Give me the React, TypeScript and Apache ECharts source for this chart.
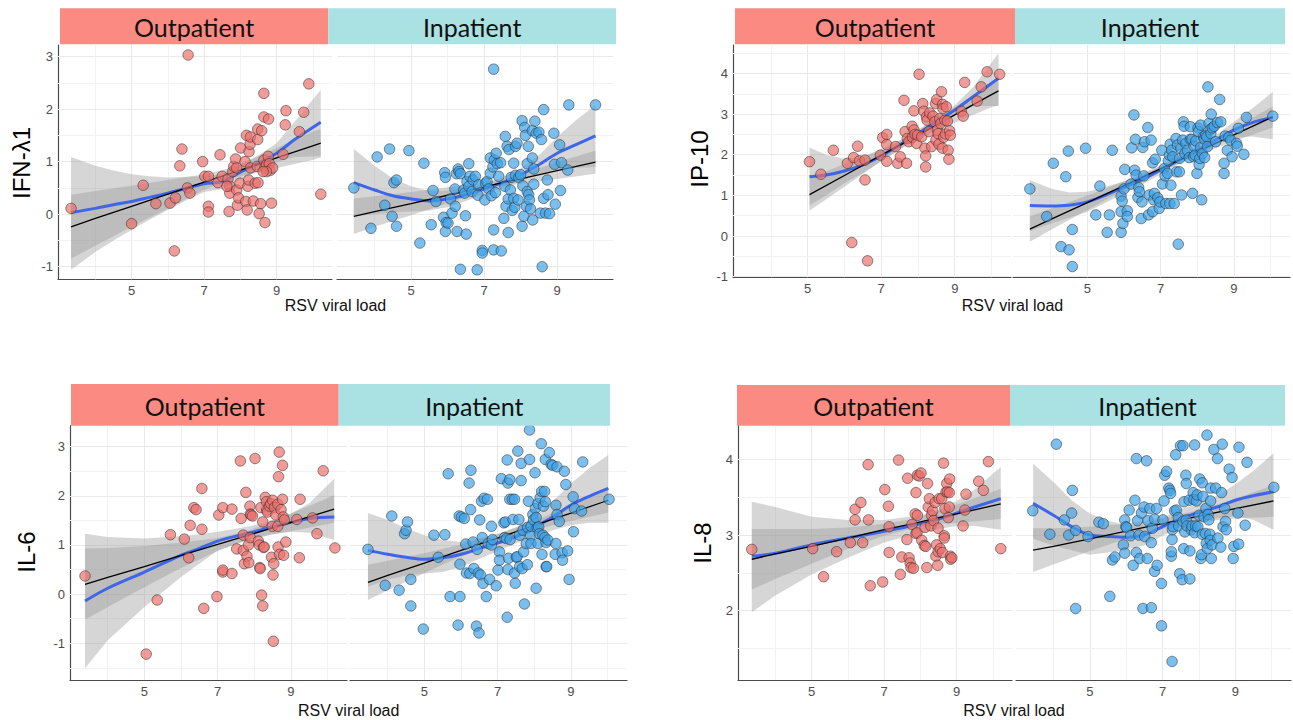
import React, { useEffect, useRef } from "react";
import * as echarts from "echarts";

// ---------------- data ----------------
const groups = ["Outpatient", "Inpatient"];
const markers = ["IFN-λ1", "IP-10", "IL-6", "IL-8"];
const xTitle = "RSV viral load";
const xTickLabels = [5, 7, 9];
const xMinorBreaks = [4, 6, 8, 10];

// IFN-λ1
const ifnOutPts = [[3.33,0.11],[5.0,-0.18],[5.32,0.55],[5.67,0.20],[6.06,0.21],[6.21,0.31],[6.18,-0.70],[6.33,0.92],[6.39,1.24],[6.54,0.50],[6.61,0.40],[6.56,3.03],[6.96,1.00],[7.02,0.72],[7.12,0.72],[7.12,0.15],[7.12,0.04],[7.44,1.13],[7.38,0.60],[7.50,0.72],[7.66,0.67],[7.69,0.05],[7.71,0.53],[7.71,0.40],[7.79,0.81],[7.82,0.91],[7.87,1.05],[7.90,0.88],[7.90,0.46],[7.92,0.17],[7.95,0.31],[7.99,0.59],[8.01,1.26],[8.13,1.00],[8.15,0.24],[8.17,1.50],[8.19,0.08],[8.21,0.53],[8.23,0.65],[8.24,1.19],[8.27,1.33],[8.28,1.47],[8.28,0.88],[8.36,0.25],[8.41,0.59],[8.47,0.91],[8.49,0.60],[8.48,1.42],[8.48,1.62],[8.56,0.20],[8.52,0.01],[8.59,1.59],[8.65,2.30],[8.65,1.85],[8.68,-0.16],[8.65,1.03],[8.68,0.88],[8.72,0.94],[8.78,1.81],[8.77,1.10],[8.80,0.96],[8.82,0.83],[8.86,0.21],[8.89,0.88],[8.72,0.81],[9.18,1.14],[9.24,1.70],[9.26,1.97],[9.63,1.57],[9.75,1.94],[9.89,2.48],[10.22,0.38],[8.63,0.81],[7.63,0.53]];
const ifnInPts = [[3.43,0.50],[3.90,-0.27],[4.07,1.09],[4.28,0.17],[4.41,1.24],[4.48,-0.04],[4.53,0.60],[4.60,0.65],[4.60,-0.23],[4.94,1.21],[5.24,-0.55],[5.35,0.97],[5.55,-0.20],[5.60,0.45],[5.68,0.24],[5.89,-0.06],[5.96,-0.16],[5.92,0.79],[5.94,0.70],[5.94,-0.33],[6.01,-0.17],[6.08,0.29],[6.12,0.02],[6.20,0.48],[6.21,0.15],[6.24,0.77],[6.29,0.86],[6.31,0.81],[6.35,0.77],[6.26,-0.33],[6.35,-1.05],[6.49,-0.03],[6.51,-0.38],[6.44,0.46],[6.47,0.40],[6.53,0.62],[6.58,0.96],[6.58,0.53],[6.61,0.72],[6.67,0.43],[6.70,0.65],[6.76,0.72],[6.81,-1.06],[6.83,0.36],[6.85,0.56],[6.95,-0.69],[6.95,-0.74],[7.02,0.27],[7.04,0.59],[7.08,0.62],[7.13,0.48],[7.17,1.07],[7.17,0.78],[7.20,0.35],[7.24,0.90],[7.26,-0.68],[7.26,-0.30],[7.28,1.03],[7.31,0.41],[7.33,1.16],[7.36,0.96],[7.40,0.72],[7.45,0.98],[7.47,-0.70],[7.54,-0.08],[7.57,0.53],[7.58,1.48],[7.60,0.15],[7.63,1.29],[7.66,-0.35],[7.66,0.29],[7.68,1.23],[7.72,0.46],[7.74,0.70],[7.77,0.07],[7.81,0.97],[7.81,0.30],[7.84,0.13],[7.86,1.29],[7.86,0.74],[7.90,1.35],[7.93,0.27],[7.95,0.70],[8.00,0.75],[8.04,1.78],[8.04,-0.23],[8.06,0.54],[8.09,-0.04],[8.11,1.65],[8.13,1.50],[8.16,0.15],[8.18,0.96],[8.18,0.43],[8.21,1.29],[8.22,0.37],[8.24,0.27],[8.27,0.10],[8.32,1.07],[8.32,1.59],[8.33,-0.11],[8.36,0.86],[8.36,0.57],[8.39,1.77],[8.43,1.54],[8.50,1.56],[8.54,0.02],[8.57,1.42],[8.59,-1.00],[8.63,1.99],[8.63,0.30],[8.68,0.02],[8.73,0.65],[8.75,0.37],[8.79,0.01],[8.91,1.54],[8.93,0.95],[8.95,0.19],[9.07,1.32],[9.09,0.45],[9.12,0.98],[9.29,0.84],[9.32,2.08],[10.05,2.08],[7.26,2.76]];
// rows: [x, fit, lower, upper]
const ifnOutLoess = [[3.33,0.03,-1.06,1.09],[4,0.11,-0.72,0.92],[4.5,0.18,-0.50,0.83],[5,0.24,-0.30,0.76],[5.5,0.32,-0.10,0.72],[6,0.40,0.08,0.70],[6.5,0.49,0.26,0.71],[7,0.58,0.42,0.72],[7.5,0.62,0.48,0.76],[8,0.80,0.66,0.95],[8.5,0.97,0.83,1.12],[9,1.16,0.99,1.35],[9.5,1.42,1.09,1.76],[10.22,1.75,1.10,2.37]];
const ifnOutLm = [[3.33,-0.24,-0.85,0.37],[4,-0.08,-0.60,0.44],[5,0.15,-0.24,0.54],[6,0.38,0.11,0.65],[7,0.61,0.46,0.76],[7.8,0.79,0.69,0.89],[8.5,0.95,0.80,1.10],[9,1.07,0.88,1.26],[10,1.30,1.03,1.57],[10.22,1.35,1.08,1.62]];
const ifnInLoess = [[3.43,0.60,-0.04,1.24],[4,0.46,0.00,0.92],[4.5,0.35,0.03,0.68],[5,0.29,0.05,0.53],[5.5,0.25,0.07,0.44],[6,0.29,0.13,0.45],[6.5,0.37,0.25,0.49],[7,0.48,0.38,0.58],[7.5,0.60,0.50,0.70],[8,0.75,0.63,0.87],[8.5,0.94,0.76,1.12],[9,1.16,0.85,1.47],[9.5,1.32,0.88,1.78],[10.05,1.49,0.90,2.08]];
const ifnInLm = [[3.43,-0.04,-0.38,0.30],[4,0.05,-0.24,0.34],[5,0.20,-0.02,0.42],[6,0.36,0.21,0.51],[7,0.52,0.44,0.60],[7.5,0.60,0.53,0.67],[8,0.67,0.58,0.76],[9,0.83,0.67,0.99],[10.05,0.99,0.77,1.21]];

// IP-10
const ip10OutPts = [[5.05,1.83],[5.36,1.52],[5.70,2.11],[6.08,1.79],[6.25,1.93],[6.36,2.21],[6.41,1.85],[6.56,1.87],[6.56,1.38],[6.20,-0.16],[6.63,-0.61],[6.98,1.99],[7.04,2.42],[7.15,2.50],[7.15,2.25],[7.15,1.84],[7.39,2.20],[7.45,1.79],[7.52,1.95],[7.62,3.34],[7.65,2.57],[7.69,1.79],[7.71,2.40],[7.75,2.32],[7.84,2.70],[7.85,2.43],[7.89,2.61],[7.89,3.08],[7.92,2.50],[7.96,2.28],[7.99,2.48],[8.03,3.98],[8.10,2.44],[8.13,3.26],[8.16,3.07],[8.19,2.16],[8.21,1.97],[8.21,1.70],[8.23,2.93],[8.25,2.85],[8.30,2.57],[8.32,3.03],[8.37,2.20],[8.41,2.95],[8.46,2.81],[8.48,3.26],[8.49,2.36],[8.51,3.36],[8.53,2.61],[8.55,2.52],[8.57,2.26],[8.59,2.89],[8.62,2.77],[8.64,3.55],[8.67,3.24],[8.67,2.16],[8.68,3.14],[8.70,2.43],[8.73,2.85],[8.75,2.51],[8.77,3.18],[8.80,2.83],[8.82,2.11],[8.84,1.89],[8.86,2.59],[8.88,2.48],[9.18,3.07],[9.23,2.95],[9.27,3.78],[9.61,3.32],[9.72,3.67],[9.88,4.04],[10.22,3.98]];
const ip10InPts = [[3.43,1.16],[3.89,0.48],[4.07,1.79],[4.28,-0.26],[4.41,1.46],[4.48,2.09],[4.50,-0.34],[4.59,0.16],[4.59,-0.75],[4.95,2.16],[5.23,0.52],[5.34,1.23],[5.54,0.09],[5.60,0.52],[5.68,2.11],[5.92,0.98],[5.95,0.86],[5.92,0.60],[5.92,0.09],[5.97,0.31],[6.00,1.16],[6.02,1.64],[6.09,0.62],[6.09,0.48],[6.19,1.28],[6.21,2.17],[6.27,2.98],[6.29,1.62],[6.31,2.38],[6.33,1.50],[6.38,0.95],[6.40,1.19],[6.42,1.09],[6.47,0.43],[6.49,0.84],[6.51,2.18],[6.54,1.48],[6.56,2.32],[6.65,2.67],[6.67,0.52],[6.69,1.01],[6.74,2.36],[6.78,1.80],[6.81,0.89],[6.78,0.60],[6.83,1.05],[6.85,1.89],[6.92,0.94],[6.96,0.68],[6.98,0.84],[7.03,2.11],[7.05,1.28],[7.10,1.66],[7.12,1.48],[7.14,0.80],[7.19,1.54],[7.21,1.85],[7.24,1.99],[7.25,0.80],[7.26,2.26],[7.28,1.25],[7.30,2.11],[7.33,1.95],[7.37,0.80],[7.42,2.40],[7.43,1.58],[7.46,2.24],[7.48,-0.20],[7.51,1.58],[7.52,1.91],[7.55,2.16],[7.57,1.01],[7.60,2.36],[7.62,2.81],[7.64,2.70],[7.66,2.03],[7.69,2.28],[7.73,2.11],[7.78,1.93],[7.81,2.38],[7.81,2.69],[7.85,2.38],[7.87,1.05],[7.90,1.95],[7.91,2.21],[7.94,1.99],[7.96,2.34],[7.99,1.54],[8.02,2.66],[8.03,2.57],[8.05,1.76],[8.07,1.91],[8.09,2.73],[8.09,2.18],[8.12,0.89],[8.14,2.03],[8.17,2.44],[8.19,2.39],[8.20,1.93],[8.23,2.48],[8.26,2.44],[8.28,2.20],[8.29,3.67],[8.32,2.77],[8.35,2.62],[8.37,2.52],[8.38,3.00],[8.41,2.66],[8.46,2.70],[8.50,2.32],[8.55,2.79],[8.61,3.36],[8.64,2.81],[8.73,1.79],[8.73,1.54],[8.76,2.46],[8.82,2.11],[8.86,2.43],[8.91,2.36],[8.95,1.95],[9.07,2.28],[9.09,2.21],[9.12,2.65],[9.27,2.01],[9.34,2.92],[10.06,2.95]];
const ip10OutLoess = [[5.05,1.46,0.75,2.18],[5.5,1.50,1.00,2.00],[6,1.60,1.30,1.90],[6.5,1.75,1.55,1.95],[7,1.97,1.84,2.10],[7.5,2.24,2.13,2.35],[8,2.52,2.42,2.62],[8.5,2.81,2.72,2.90],[9,3.10,2.98,3.22],[9.5,3.43,3.20,3.66],[10.19,3.88,3.20,4.50]];
const ip10OutLm = [[5.05,1.02,0.62,1.42],[6,1.49,1.21,1.77],[7,1.99,1.84,2.14],[7.7,2.33,2.24,2.42],[8.5,2.73,2.60,2.86],[9,2.98,2.79,3.17],[10,3.48,3.17,3.79],[10.19,3.57,3.21,3.93]];
const ip10InLoess = [[3.43,0.75,0.12,1.38],[4,0.74,0.30,1.17],[4.5,0.76,0.45,1.07],[5,0.84,0.60,1.09],[5.5,1.01,0.82,1.21],[6,1.20,1.05,1.34],[6.5,1.39,1.27,1.52],[7,1.62,1.52,1.72],[7.5,1.87,1.77,1.97],[8,2.11,2.00,2.21],[8.5,2.36,2.25,2.48],[9,2.61,2.42,2.81],[9.5,2.79,2.45,3.14],[10.06,2.92,2.38,3.55]];
const ip10InLm = [[3.43,0.17,-0.14,0.48],[4,0.41,0.15,0.67],[5,0.82,0.64,1.00],[6,1.24,1.13,1.35],[7,1.66,1.59,1.73],[8,2.07,1.99,2.15],[9,2.49,2.33,2.65],[10.06,2.93,2.67,3.19]];

// IL-6
const il6OutPts = [[3.38,0.37],[5.05,-1.22],[5.35,-0.12],[5.71,1.21],[6.09,1.12],[6.21,0.74],[6.25,1.40],[6.35,1.76],[6.41,1.72],[6.57,1.32],[6.57,2.15],[6.62,-0.29],[6.98,-0.05],[7.03,1.61],[7.14,0.45],[7.14,0.49],[7.14,1.76],[7.39,0.42],[7.39,1.73],[7.52,0.92],[7.62,2.71],[7.64,1.54],[7.70,1.20],[7.70,0.89],[7.73,0.62],[7.77,2.07],[7.80,0.77],[7.84,1.00],[7.85,0.64],[7.88,1.79],[7.89,1.63],[7.89,1.15],[7.91,1.61],[7.95,1.59],[8.02,2.76],[8.11,1.08],[8.14,1.00],[8.15,0.54],[8.16,0.52],[8.18,1.76],[8.20,-0.02],[8.23,1.47],[8.23,-0.24],[8.25,0.95],[8.27,0.96],[8.30,1.97],[8.33,1.88],[8.34,1.71],[8.36,1.67],[8.41,1.79],[8.45,1.84],[8.47,0.75],[8.49,1.38],[8.50,1.91],[8.51,0.39],[8.53,0.62],[8.52,-0.96],[8.55,1.76],[8.59,1.61],[8.64,1.83],[8.64,1.38],[8.65,0.96],[8.66,2.39],[8.68,2.89],[8.69,0.81],[8.73,1.72],[8.77,1.93],[8.77,2.62],[8.79,1.57],[8.80,0.79],[8.82,1.51],[8.86,1.06],[9.16,1.52],[9.23,0.74],[9.25,1.93],[9.59,1.55],[9.71,1.23],[9.88,2.51],[10.20,0.94]];
const il6InPts = [[3.46,0.91],[3.93,0.18],[4.11,1.59],[4.31,0.08],[4.46,1.23],[4.50,1.30],[4.54,1.47],[4.63,0.30],[4.63,-0.24],[4.97,-0.71],[5.26,1.20],[5.38,0.75],[5.56,1.21],[5.65,2.45],[5.70,-0.05],[5.92,-0.63],[5.95,1.59],[5.97,-0.05],[5.97,0.61],[6.01,1.57],[6.09,1.54],[6.13,1.02],[6.15,0.43],[6.22,2.26],[6.24,0.42],[6.27,2.52],[6.26,1.72],[6.33,1.06],[6.35,0.52],[6.42,-0.65],[6.44,0.91],[6.47,0.43],[6.49,-0.79],[6.51,1.51],[6.53,0.39],[6.56,1.89],[6.58,1.15],[6.60,0.22],[6.63,1.95],[6.69,-0.05],[6.72,1.93],[6.74,1.03],[6.78,0.30],[6.83,1.38],[6.83,1.00],[6.86,1.11],[6.96,0.17],[7.01,0.49],[7.05,0.86],[7.05,0.69],[7.10,2.35],[7.17,1.45],[7.19,1.15],[7.21,1.47],[7.24,1.13],[7.26,-0.47],[7.26,2.73],[7.28,2.26],[7.28,0.50],[7.30,0.73],[7.33,2.33],[7.33,1.93],[7.34,1.11],[7.40,1.93],[7.42,1.52],[7.46,1.93],[7.46,0.43],[7.48,0.22],[7.51,0.75],[7.53,0.76],[7.55,2.91],[7.58,1.52],[7.60,0.56],[7.60,1.20],[7.64,2.66],[7.64,2.31],[7.67,0.52],[7.69,1.30],[7.71,0.86],[7.73,-0.20],[7.78,1.03],[7.81,0.60],[7.82,1.36],[7.84,1.89],[7.87,2.74],[7.87,3.34],[7.90,1.20],[7.91,1.03],[7.91,1.38],[7.96,1.62],[7.98,1.51],[8.02,2.47],[8.03,1.74],[8.05,1.56],[8.05,0.12],[8.08,1.35],[8.10,1.03],[8.10,1.84],[8.12,1.37],[8.14,1.23],[8.16,1.96],[8.19,3.06],[8.20,2.09],[8.21,0.81],[8.23,1.20],[8.25,1.79],[8.28,2.09],[8.29,1.15],[8.30,2.74],[8.32,1.05],[8.32,0.56],[8.30,1.88],[8.34,0.56],[8.37,1.10],[8.41,2.88],[8.46,2.64],[8.50,2.62],[8.57,0.81],[8.59,1.03],[8.59,1.81],[8.62,2.59],[8.62,1.62],[8.68,1.48],[8.76,0.84],[8.77,0.69],[8.82,2.50],[8.86,2.23],[8.91,0.88],[8.95,0.30],[9.06,1.98],[9.07,1.27],[9.10,1.74],[9.29,1.69],[9.32,2.69],[10.04,1.93]];
const il6OutLoess = [[3.38,-0.14,-1.51,1.23],[4,0.12,-0.94,1.16],[5,0.45,-0.26,1.13],[6,0.79,0.35,1.18],[6.5,0.93,0.62,1.22],[7,1.08,0.89,1.27],[7.5,1.18,1.02,1.33],[8,1.27,1.13,1.40],[8.5,1.37,1.22,1.50],[9,1.46,1.27,1.64],[9.5,1.54,1.25,1.85],[10.18,1.57,1.10,2.35]];
const il6OutLm = [[3.38,0.20,-0.52,0.93],[4,0.34,-0.26,0.94],[5,0.56,0.14,0.98],[6,0.79,0.53,1.05],[7,1.01,0.88,1.14],[7.8,1.19,1.10,1.28],[8.5,1.35,1.22,1.48],[9,1.46,1.28,1.64],[10.18,1.73,1.45,2.01]];
const il6InLoess = [[3.46,0.89,0.15,1.65],[4,0.81,0.30,1.51],[4.5,0.75,0.38,1.34],[5,0.71,0.42,1.20],[5.5,0.74,0.45,1.10],[6,0.81,0.55,1.06],[6.5,0.93,0.72,1.14],[7,1.04,0.88,1.23],[7.5,1.17,1.03,1.36],[8,1.36,1.18,1.57],[8.5,1.57,1.30,1.88],[9,1.81,1.40,2.25],[9.5,1.99,1.45,2.56],[10.02,2.15,1.45,2.83]];
const il6InLm = [[3.46,0.24,-0.12,0.60],[4,0.38,0.08,0.68],[5,0.63,0.43,0.83],[6,0.89,0.77,1.01],[7,1.14,1.06,1.22],[8,1.40,1.31,1.49],[9,1.65,1.49,1.81],[10.02,1.91,1.66,2.16]];

// IL-8
const il8OutPts = [[3.35,2.81],[5.03,2.82],[5.33,2.45],[5.69,2.78],[6.07,2.90],[6.20,3.34],[6.20,3.20],[6.36,3.43],[6.41,2.90],[6.56,3.93],[6.57,3.20],[6.62,2.33],[6.96,2.38],[7.02,3.60],[7.12,3.38],[7.14,2.77],[7.14,3.11],[7.40,3.99],[7.45,2.48],[7.49,2.71],[7.63,2.94],[7.65,3.75],[7.69,2.70],[7.72,2.63],[7.74,2.57],[7.77,3.14],[7.81,2.56],[7.86,3.28],[7.88,3.56],[7.88,3.02],[7.91,3.03],[7.92,3.26],[7.92,3.79],[7.97,3.78],[8.02,3.82],[8.04,2.93],[8.11,2.86],[8.13,3.10],[8.15,2.85],[8.18,2.57],[8.20,3.68],[8.22,3.37],[8.25,3.48],[8.29,3.12],[8.31,3.26],[8.34,3.32],[8.37,3.19],[8.41,3.43],[8.43,2.72],[8.45,2.87],[8.48,2.60],[8.49,3.09],[8.49,2.78],[8.52,3.48],[8.55,2.82],[8.59,3.48],[8.61,2.77],[8.64,3.95],[8.66,2.99],[8.66,2.96],[8.68,3.35],[8.71,3.57],[8.73,3.68],[8.75,3.57],[8.77,3.23],[8.80,3.56],[8.80,3.37],[8.81,3.74],[8.83,2.72],[8.84,2.68],[8.87,2.70],[9.26,3.54],[9.23,3.33],[9.18,3.12],[9.61,3.71],[9.74,3.59],[9.88,3.97],[10.22,2.82]];
const il8InPts = [[3.43,3.32],[3.90,3.01],[4.08,4.20],[4.30,3.20],[4.42,3.00],[4.50,3.29],[4.52,3.59],[4.61,2.03],[4.61,3.06],[4.95,2.98],[5.25,3.17],[5.37,3.15],[5.55,2.19],[5.62,2.67],[5.69,2.71],[5.92,2.87],[5.96,3.20],[5.96,2.76],[5.99,3.11],[6.01,3.10],[6.08,3.33],[6.12,2.99],[6.19,2.60],[6.24,3.46],[6.28,4.01],[6.31,3.19],[6.28,2.77],[6.35,3.00],[6.37,2.69],[6.42,3.29],[6.46,2.03],[6.49,3.37],[6.51,2.98],[6.56,3.98],[6.58,2.69],[6.60,3.19],[6.65,3.35],[6.69,2.90],[6.69,2.04],[6.72,3.09],[6.78,3.21],[6.78,2.52],[6.83,3.35],[6.85,2.60],[6.97,2.36],[6.97,1.80],[7.01,3.20],[7.04,3.45],[7.06,3.79],[7.11,3.84],[7.17,3.62],[7.20,3.59],[7.22,3.55],[7.24,2.72],[7.24,2.78],[7.26,2.94],[7.26,1.33],[7.27,3.07],[7.29,3.11],[7.33,3.32],[7.36,4.06],[7.38,3.33],[7.43,3.23],[7.44,3.12],[7.47,2.49],[7.49,4.18],[7.54,2.41],[7.56,4.18],[7.56,3.18],[7.58,2.82],[7.59,3.44],[7.61,3.04],[7.64,3.79],[7.65,3.68],[7.65,3.20],[7.67,3.12],[7.73,3.46],[7.75,2.79],[7.75,2.42],[7.79,3.07],[7.81,3.12],[7.84,3.56],[7.86,3.47],[7.88,4.19],[7.88,3.03],[7.91,3.12],[7.93,3.45],[7.95,3.53],[7.97,3.11],[8.00,3.26],[8.02,3.74],[8.05,2.69],[8.07,2.74],[8.09,3.69],[8.09,3.01],[8.11,3.51],[8.14,3.24],[8.18,3.02],[8.19,3.35],[8.20,2.89],[8.22,4.32],[8.23,2.82],[8.25,3.27],[8.27,3.20],[8.30,3.01],[8.31,2.93],[8.32,3.45],[8.32,3.62],[8.34,2.69],[8.36,2.87],[8.41,4.13],[8.46,3.62],[8.51,4.01],[8.52,2.96],[8.60,2.84],[8.62,3.56],[8.64,4.20],[8.66,3.11],[8.71,3.35],[8.73,3.18],[8.75,3.07],[8.83,3.87],[8.91,3.76],[8.94,2.69],[8.96,2.85],[9.07,3.29],[9.09,2.88],[9.10,4.16],[9.27,3.13],[9.32,3.96],[10.06,3.63]];
const il8OutLoess = [[3.35,2.72,1.98,3.44],[4,2.76,2.20,3.37],[5,2.87,2.48,3.24],[6,2.96,2.70,3.20],[7,3.05,2.90,3.20],[8,3.15,3.03,3.26],[8.5,3.21,3.08,3.33],[9,3.29,3.12,3.45],[9.5,3.37,3.12,3.60],[10.22,3.48,3.07,3.90]];
const il8OutLm = [[3.35,2.68,2.28,3.08],[4,2.75,2.42,3.08],[5,2.85,2.62,3.08],[6,2.96,2.82,3.10],[7,3.07,2.99,3.15],[7.8,3.15,3.09,3.21],[8.5,3.23,3.15,3.31],[9,3.28,3.16,3.40],[10.22,3.41,3.21,3.61]];
const il8InLoess = [[3.44,3.42,2.95,3.94],[4,3.26,2.86,3.70],[4.5,3.11,2.80,3.46],[5,3.00,2.74,3.28],[5.5,2.98,2.77,3.19],[6,2.97,2.81,3.13],[6.5,3.00,2.86,3.14],[7,3.11,2.99,3.23],[7.5,3.22,3.10,3.34],[8,3.30,3.18,3.42],[8.5,3.37,3.22,3.52],[9,3.46,3.25,3.67],[9.5,3.52,3.20,3.85],[10.05,3.57,3.07,4.08]];
const il8InLm = [[3.44,2.80,2.51,3.09],[4,2.85,2.61,3.09],[5,2.95,2.79,3.11],[6,3.05,2.95,3.15],[7,3.15,3.08,3.22],[8,3.25,3.17,3.33],[9,3.35,3.22,3.48],[10.05,3.45,3.24,3.66]];

// y axis breaks per marker
const ifnYMajor = [-1, 0, 1, 2, 3];
const ifnYMinor = [-0.5, 0.5, 1.5, 2.5];
const ip10YMajor = [-1, 0, 1, 2, 3, 4];
const ip10YMinor = [-0.5, 0.5, 1.5, 2.5, 3.5, 4.5];
const il6YMajor = [-1, 0, 1, 2, 3];
const il6YMinor = [-1.5, -0.5, 0.5, 1.5, 2.5];
const il8YMajor = [2, 3, 4];
const il8YMinor = [1.5, 2.5, 3.5];

// ---------------- layout / style ----------------
const X_RANGE = [2.97, 10.53];
const panelDefs = [
  { title: markers[0], yRange: [-1.24, 3.22], yMajor: ifnYMajor, yMinor: ifnYMinor,
    facets: [[ifnOutPts, ifnOutLoess, ifnOutLm], [ifnInPts, ifnInLoess, ifnInLm]],
    top: 45, height: 234.3, lefts: [58, 337], widths: [274, 276],
    stripY: 8.3, stripH: 36, stripX: [60, 328.3, 616], yTitlePos: [21.5, 163], xTitlePos: [335.5, 305] },
  { title: markers[1], yRange: [-1.015, 4.7], yMajor: ip10YMajor, yMinor: ip10YMinor,
    facets: [[ip10OutPts, ip10OutLoess, ip10OutLm], [ip10InPts, ip10InLoess, ip10InLm]],
    top: 45, height: 232.3, lefts: [733, 1013], widths: [278, 277],
    stripY: 8.3, stripH: 36, stripX: [735, 1015, 1285], yTitlePos: [699, 159], xTitlePos: [1012.5, 305] },
  { title: markers[2], yRange: [-1.747, 3.427], yMajor: il6YMajor, yMinor: il6YMinor,
    facets: [[il6OutPts, il6OutLoess, il6OutLm], [il6InPts, il6InLoess, il6InLm]],
    top: 425.7, height: 254.3, lefts: [70, 350], widths: [277, 277],
    stripY: 384, stripH: 41.7, stripX: [71, 338.7, 610], yTitlePos: [26, 552], xTitlePos: [348.7, 710] },
  { title: markers[3], yRange: [1.085, 4.444], yMajor: il8YMajor, yMinor: il8YMinor,
    facets: [[il8OutPts, il8OutLoess, il8OutLm], [il8InPts, il8InLoess, il8InLm]],
    top: 425.7, height: 254.3, lefts: [738, 1016], widths: [274, 275],
    stripY: 385, stripH: 40.7, stripX: [737, 1010, 1285], yTitlePos: [702, 543], xTitlePos: [1014, 710] },
];

const STRIP_FILLS = ["#FA8A82", "#AAE1E3"];
const POINT_FILLS = ["rgba(236,111,106,0.86)", "rgba(63,162,232,0.86)"];
const AXIS_FONT = "Liberation Sans";
const RIBBON = "rgba(153,153,153,0.4)";

function ribbonSeries(g: number, rows: number[][]) {
  return {
    type: "custom",
    coordinateSystem: "cartesian2d",
    xAxisIndex: g,
    yAxisIndex: g,
    silent: true,
    clip: true,
    z: 2,
    data: rows,
    encode: { x: 0, y: [2, 3] },
    renderItem: (params: any, api: any) => {
      if (params.dataIndex !== 0) return null;
      const upper = rows.map((r) => api.coord([r[0], r[3]]));
      const lower = rows.slice().reverse().map((r) => api.coord([r[0], r[2]]));
      return {
        type: "polygon",
        shape: { points: upper.concat(lower) },
        style: { fill: RIBBON, stroke: "none" },
      };
    },
  };
}

function buildOption() {
  const grid: any[] = [];
  const xAxis: any[] = [];
  const yAxis: any[] = [];
  const series: any[] = [];
  const graphic: any[] = [];

  panelDefs.forEach((p, pi) => {
    p.facets.forEach((f, fi) => {
      const g = pi * 2 + fi;
      grid.push({ left: p.lefts[fi], top: p.top, width: p.widths[fi], height: p.height, containLabel: false });
      xAxis.push({
        type: "value", gridIndex: g, min: X_RANGE[0], max: X_RANGE[1],
        axisLine: { show: true, onZero: false, lineStyle: { color: "#4a4a4a", width: 1.2 } },
        axisTick: { show: false },
        splitLine: { show: false },
        axisLabel: { show: true, customValues: xTickLabels, margin: 5, fontSize: 13, color: "#4D4D4D", fontFamily: AXIS_FONT },
      });
      yAxis.push({
        type: "value", gridIndex: g, min: p.yRange[0], max: p.yRange[1],
        axisLine: { show: fi === 0, onZero: false, lineStyle: { color: "#4a4a4a", width: 1.2 } },
        axisTick: { show: false },
        splitLine: { show: false },
        axisLabel: { show: fi === 0, customValues: p.yMajor, margin: 5, fontSize: 13, color: "#4D4D4D", fontFamily: AXIS_FONT },
      });
      const gridLines = [
        ...xMinorBreaks.map((v) => ({ xAxis: v, lineStyle: { color: "#F2F2F2", width: 1, type: "solid" } })),
        ...xTickLabels.map((v) => ({ xAxis: v, lineStyle: { color: "#E9E9E9", width: 1, type: "solid" } })),
        ...p.yMinor.map((v) => ({ yAxis: v, lineStyle: { color: "#F2F2F2", width: 1, type: "solid" } })),
        ...p.yMajor.map((v) => ({ yAxis: v, lineStyle: { color: "#E9E9E9", width: 1, type: "solid" } })),
      ];
      const [pts, loess, lm] = f as any;
      series.push({
        type: "line", xAxisIndex: g, yAxisIndex: g, data: [], z: 1, silent: true,
        markLine: { silent: true, symbol: ["none", "none"], label: { show: false }, z: 1, data: gridLines, emphasis: { disabled: true } },
      });
      series.push(ribbonSeries(g, loess));
      series.push(ribbonSeries(g, lm));
      series.push({
        type: "line", xAxisIndex: g, yAxisIndex: g, z: 3, silent: true, symbol: "none", smooth: 0.35,
        data: loess.map((r: number[]) => [r[0], r[1]]),
        lineStyle: { color: "#3D66E8", width: 3 },
      });
      series.push({
        type: "line", xAxisIndex: g, yAxisIndex: g, z: 3, silent: true, symbol: "none",
        data: lm.map((r: number[]) => [r[0], r[1]]),
        lineStyle: { color: "#000000", width: 1.3 },
      });
      series.push({
        type: "scatter", xAxisIndex: g, yAxisIndex: g, z: 4, silent: true,
        data: pts, symbolSize: 10.5,
        itemStyle: { color: POINT_FILLS[fi], borderColor: "rgba(45,45,45,0.85)", borderWidth: 0.8 },
      });

      // strip header
      const sx0 = p.stripX[fi];
      const sx1 = p.stripX[fi + 1];
      graphic.push({ type: "rect", shape: { x: sx0, y: p.stripY, width: sx1 - sx0, height: p.stripH }, style: { fill: STRIP_FILLS[fi] }, z: 10 });
      graphic.push({
        type: "text", x: (sx0 + sx1) / 2, y: p.stripY + p.stripH / 2 + 1, z: 11,
        style: { text: groups[fi], fill: "#111", font: '25px "Lato"', textAlign: "center", textVerticalAlign: "middle" },
      });
    });
    graphic.push({
      type: "text", x: p.yTitlePos[0], y: p.yTitlePos[1], rotation: Math.PI / 2, z: 11,
      style: { text: p.title, fill: "#000", font: `24px "${AXIS_FONT}"`, textAlign: "center", textVerticalAlign: "middle" },
    });
    graphic.push({
      type: "text", x: p.xTitlePos[0], y: p.xTitlePos[1], z: 11,
      style: { text: xTitle, fill: "#111", font: `16px "${AXIS_FONT}"`, textAlign: "center", textVerticalAlign: "middle" },
    });
  });

  return { animation: false, backgroundColor: "#ffffff", grid, xAxis, yAxis, series, graphic };
}

export default function App() {
  const ref = useRef<HTMLDivElement>(null);
  useEffect(() => {
    if (!ref.current) return;
    const chart = echarts.init(ref.current, null, { renderer: "svg" });
    chart.setOption(buildOption() as any);
    return () => chart.dispose();
  }, []);
  return (
    <div
      ref={ref}
      style={{ position: "fixed", left: 0, top: 0, width: 1293, height: 720, background: "#fff" }}
    />
  );
}
